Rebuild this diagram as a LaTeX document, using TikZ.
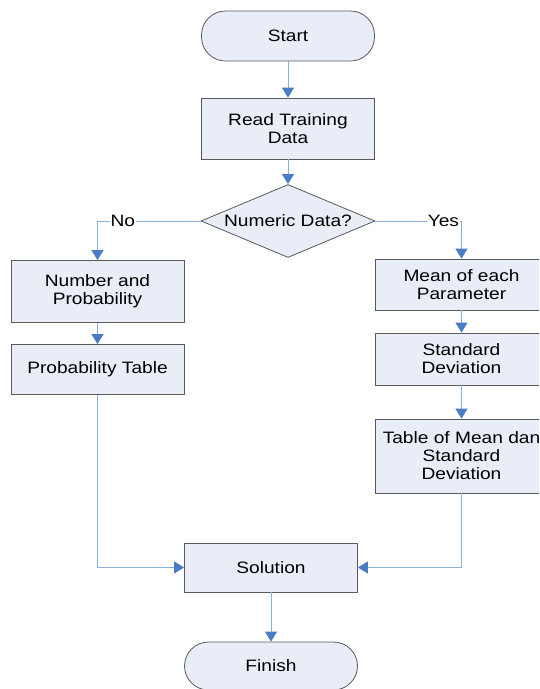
\documentclass[tikz,border=0pt]{standalone}
\usepackage{fontspec}
\setmainfont[FakeStretch=1.16]{Liberation Sans}
\usetikzlibrary{arrows.meta,shapes.geometric}
\definecolor{boxfill}{HTML}{E8EDF7}
\definecolor{boxline}{HTML}{5A5A5A}
\definecolor{linkblue}{HTML}{8DB0DC}
\definecolor{tipblue}{HTML}{4A7CC4}
\begin{document}
\begin{tikzpicture}[x=1pt, y=-1pt,
    every node/.style={font=\fontsize{16.5}{18}\selectfont, align=center},
    box/.style={draw=boxline, fill=boxfill, line width=0.8pt, inner sep=2pt,
        minimum width=173pt},
    term/.style={box, rounded corners=24pt},
    decide/.style={draw=boxline, fill=boxfill, line width=0.8pt, diamond,
        aspect=2.4, inner sep=0pt, minimum width=174pt, minimum height=73pt},
    link/.style={draw=linkblue, line width=0.9pt,
        -{Triangle[width=12pt, length=10pt, color=tipblue]}},
    tag/.style={fill=white, inner sep=1pt}]
    \useasboundingbox (0,0) rectangle (539,689);
    \clip (0,0) rectangle (539,689);

    \node[term, minimum height=50pt] (start) at (288,36) {Start};
    \node[box, minimum height=61pt] (read) at (288,128.5) {Read Training\\Data};
    \node[decide] (numeric) at (288,221) {Numeric Data?};

    \node[box, minimum height=62pt] (count) at (97.5,291.5) {Number and\\Probability};
    \node[box, minimum height=50pt] (probtab) at (97.5,369.5) {Probability Table};

    \node[box, minimum height=51pt] (mean) at (461.5,284.5) {Mean of each\\Parameter};
    \node[box, minimum height=52pt] (stdev) at (461.5,359) {Standard\\Deviation};
    \node[box, minimum height=74pt] (meantab) at (461.5,456) {Table of Mean dan\\Standard\\Deviation};

    \node[box, minimum height=49pt] (solution) at (271,567.5) {Solution};
    \node[term, minimum height=48pt] (finish) at (271,666) {Finish};

    \draw[link] (start) -- (read);
    \draw[link] (read) -- (numeric);
    \draw[link] (numeric.west) -| node[tag, pos=0.377] {No} (count.north);
    \draw[link] (numeric.east) -| node[tag, pos=0.395] {Yes} (mean.north);
    \draw[link] (count) -- (probtab);
    \draw[link] (mean) -- (stdev);
    \draw[link] (stdev) -- (meantab);
    \draw[link] (probtab.south) |- (solution.west);
    \draw[link] (meantab.south) |- (solution.east);
    \draw[link] (solution) -- (finish);
\end{tikzpicture}
\end{document}
